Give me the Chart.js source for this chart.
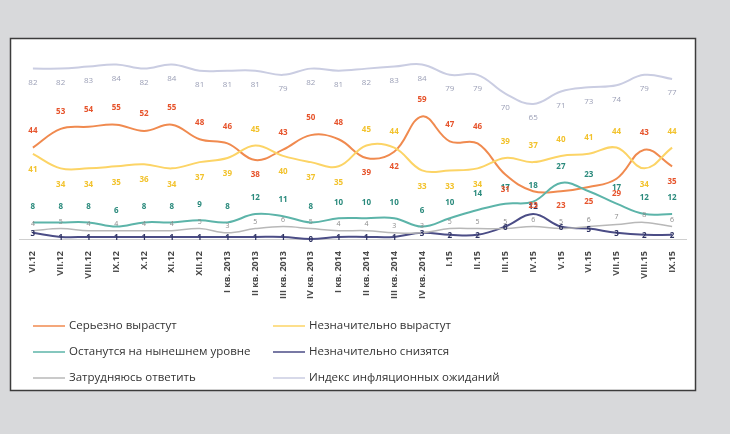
<!DOCTYPE html>
<html>
<head>
<meta charset="utf-8">
<script src="https://cdn.jsdelivr.net/npm/chart.js@4.4.1/dist/chart.umd.min.js"></script>
<style>
  html, body { margin: 0; padding: 0; background: #d8d9db; }
  canvas { display: block; }
</style>
</head>
<body>
<canvas id="inflChart" width="730" height="434"></canvas>
<script>
// categories (months / quarters)
const categories = ['VI.12', 'VII.12', 'VIII.12', 'IX.12', 'X.12', 'XI.12', 'XII.12',
  'I кв. 2013', 'II кв. 2013', 'III кв. 2013', 'IV кв. 2013',
  'I кв. 2014', 'II кв. 2014', 'III кв. 2014', 'IV кв. 2014',
  'I.15', 'II.15', 'III.15', 'IV.15', 'V.15', 'VI.15', 'VII.15', 'VIII.15', 'IX.15'];

const seriousRise = [44, 53, 54, 55, 52, 55, 48, 46, 38, 43, 50, 48, 39, 42, 59, 47, 46, 31, 23, 23, 25, 29, 43, 35];
const slightRise = [41, 34, 34, 35, 36, 34, 37, 39, 45, 40, 37, 35, 45, 44, 33, 33, 34, 39, 37, 40, 41, 44, 34, 44];
const sameLevel = [8, 8, 8, 6, 8, 8, 9, 8, 12, 11, 8, 10, 10, 10, 6, 10, 14, 17, 18, 27, 23, 17, 12, 12];
const slightFall = [3, 1, 1, 1, 1, 1, 1, 1, 1, 1, 0, 1, 1, 1, 3, 2, 2, 6, 12, 6, 5, 3, 2, 2];
const hardToSay = [4, 5, 4, 4, 4, 4, 5, 3, 5, 6, 5, 4, 4, 3, 3, 5, 5, 5, 6, 5, 6, 7, 8, 6];
const inflIndex = [82, 82, 83, 84, 82, 84, 81, 81, 81, 79, 82, 81, 82, 83, 84, 79, 79, 70, 65, 71, 73, 74, 79, 77];

const legendNames = ['Серьезно вырастут', 'Незначительно вырастут', 'Останутся на нынешнем уровне',
  'Незначительно снизятся', 'Затрудняюсь ответить', 'Индекс инфляционных ожиданий'];

const bgPlugin = {
  id: 'bg',
  beforeDraw(chart) {
    const c = chart.ctx;
    c.save();
    c.fillStyle = '#d8d9db';
    c.fillRect(0, 0, 730, 434);
    c.fillStyle = '#ffffff';
    c.fillRect(10, 38, 686, 353);
    c.strokeStyle = '#3c3c3c';
    c.lineWidth = 1.5;
    c.strokeRect(10.5, 38.5, 685, 352);
    c.restore();
  }
};

// value labels next to each point
const labelPlugin = {
  id: 'pointLabels',
  afterDatasetsDraw(chart) {
    const c = chart.ctx;
    c.save();
    c.textAlign = 'center';
    c.textBaseline = 'middle';
    chart.data.datasets.forEach((ds, di) => {
      const meta = chart.getDatasetMeta(di);
      c.font = ds.labelFont;
      c.fillStyle = ds.labelColor;
      meta.data.forEach((pt, i) => {
        c.fillText(ds.data[i], pt.x, pt.y + ds.labelDy(i));
      });
    });
    c.restore();
  }
};

// legend in two columns under the axis
const legendPlugin = {
  id: 'customLegend',
  afterDraw(chart) {
    const c = chart.ctx;
    const cols = [33, 273];
    const rows = [326, 352, 378];
    c.save();
    c.font = '11.5px "Open Sans"';
    c.textBaseline = 'middle';
    c.fillStyle = '#333333';
    legendNames.forEach((name, k) => {
      const ds = chart.data.datasets.find(d => d.label === name);
      const x = cols[k % 2], y = rows[Math.floor(k / 2)];
      c.strokeStyle = ds.borderColor;
      c.lineWidth = 1.5;
      c.beginPath();
      c.moveTo(x, y);
      c.lineTo(x + 32, y);
      c.stroke();
      c.fillText(name, x + 36, y);
    });
    c.restore();
  }
};

const boldLbl = 'bold 8px "Open Sans"';

new Chart(document.getElementById('inflChart'), {
  type: 'line',
  data: {
    labels: categories,
    datasets: [
      {
        label: legendNames[5], data: inflIndex,
        borderColor: '#cacde2', borderWidth: 2,
        labelColor: '#9b9fb6', labelFont: '8px "Open Sans"',
        labelDy: () => 14
      },
      {
        label: legendNames[4], data: hardToSay,
        borderColor: '#b8b8b8', borderWidth: 1.5,
        labelColor: '#8a8a8a', labelFont: '7px "Open Sans"',
        labelDy: () => -7
      },
      {
        label: legendNames[3], data: slightFall,
        borderColor: '#4b4d86', borderWidth: 2,
        labelColor: '#2f3363', labelFont: boldLbl,
        labelDy: i => (slightFall[i] > 8 ? -7 : 1)
      },
      {
        label: legendNames[2], data: sameLevel,
        borderColor: '#5cb4a9', borderWidth: 2,
        labelColor: '#2a8a7c', labelFont: boldLbl,
        labelDy: () => -16
      },
      {
        label: legendNames[1], data: slightRise,
        borderColor: '#fcd466', borderWidth: 2,
        labelColor: '#f2c22c', labelFont: boldLbl,
        labelDy: i => (slightRise[i] > seriousRise[i] ? -16 : 16)
      },
      {
        label: legendNames[0], data: seriousRise,
        borderColor: '#f08a4f', borderWidth: 2,
        labelColor: '#e6532b', labelFont: boldLbl,
        labelDy: i => (seriousRise[i] >= slightRise[i] ? -17 : 15)
      }
    ].map(d => Object.assign({ fill: false, tension: 0.4, pointRadius: 0, clip: false }, d))
  },
  options: {
    responsive: false,
    animation: false,
    events: [],
    layout: { padding: { left: 19, right: 44, top: 52, bottom: 133 } },
    plugins: {
      legend: { display: false },
      tooltip: { enabled: false }
    },
    scales: {
      x: {
        offset: true,
        grid: { display: false },
        border: { display: true, color: '#cfcfcf', width: 1 },
        ticks: {
          autoSkip: false,
          minRotation: 90,
          maxRotation: 90,
          padding: 4,
          color: '#4a4a4a',
          font: { family: 'Open Sans', size: 9, weight: 'bold' }
        },
        afterFit(scale) { scale.height = 62; }
      },
      y: {
        display: false,
        min: 0,
        max: 90
      }
    }
  },
  plugins: [bgPlugin, labelPlugin, legendPlugin]
});
</script>
</body>
</html>
